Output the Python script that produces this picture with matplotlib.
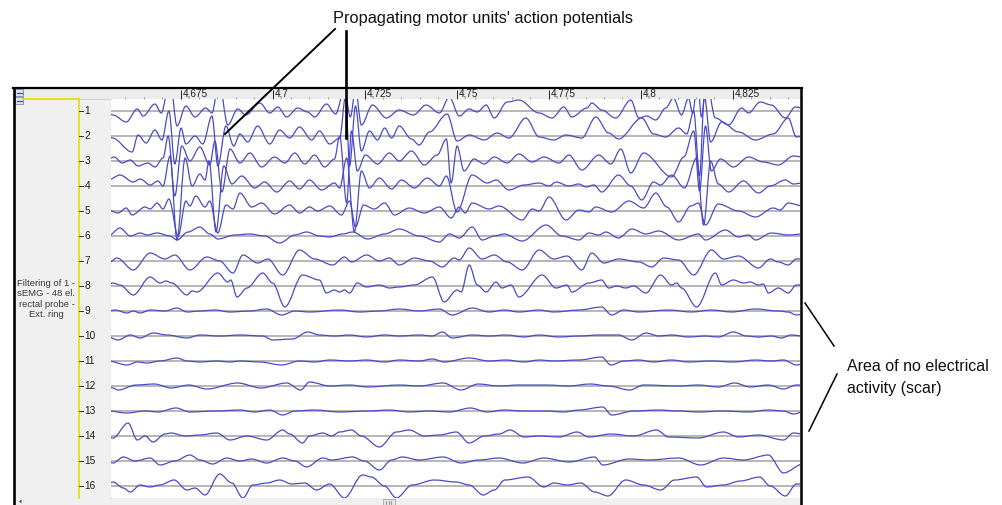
import matplotlib
matplotlib.use("Agg")
import matplotlib.pyplot as plt
from matplotlib.path import Path
from matplotlib.patches import PathPatch, Rectangle, Polygon
from matplotlib.transforms import blended_transform_factory, offset_copy
from matplotlib.ticker import MultipleLocator

W, H = 1003, 505
FONT = "Liberation Sans"

# Time origin of the sample lists below (s); samples are (ms after T0, µV)
T0 = 4.6496
CH_SPACING = 250.0          # µV between neighbouring channel baselines
T_START, T_END = 4.656196, 4.843152
V_TOP, V_BOTTOM = 125.0, -3865.0

tick_times = [4.675, 4.700, 4.725, 4.750, 4.775, 4.800, 4.825]
tick_labels = ["4,675", "4,7", "4,725", "4,75", "4,775", "4,8", "4,825"]
channel_labels = [str(i) for i in range(1, 17)]
panel_title = "Filtering of 1 -\nsEMG - 48 el.\nrectal probe -\nExt. ring"

# Local extrema of each filtered channel: (ms after T0, µV)
ch01 = [(5.7, -20), (7.0, -40), (10.6, -110), (13.6, 20), (15.2, -50), (18.4, 70), (20.1, -20),
        (22.5, 320), (24.4, -150), (26.8, 50), (29.3, -60), (32.2, 30), (33.9, -20), (35.8, 300),
        (38.2, -140), (40.9, 20), (43.1, -40), (46.9, 80), (49.6, -20), (51.8, 40), (54.2, -60),
        (57.2, 30), (59.9, -10), (61.8, -60), (65.0, 70), (67.5, -30), (69.9, 220), (71.5, -60),
        (72.9, 220), (74.5, -140), (77.5, 60), (81.3, -70), (84.8, 10), (88.6, -40), (92.1, 60),
        (95.7, -20), (98.4, 140), (101.1, -50), (103.8, 20), (106.0, -10), (108.4, 60), (110.6, -70),
        (114.1, 90), (117.3, 110), (122.8, -20), (126.3, -70), (129.5, 40), (131.7, -60), (135.8, 30),
        (137.1, 80), (139.8, 10), (143.6, -70), (147.7, 110), (149.9, -70), (152.0, -50), (154.5, -90),
        (157.2, 30), (159.3, 130), (161.5, -40), (163.4, 130), (164.5, -20), (165.9, 300), (166.9, -60),
        (168.3, 300), (170.7, -70), (174.3, -140), (177.8, 30), (179.7, -20), (182.9, 90), (185.9, 60),
        (189.7, -70), (192.4, 40), (194.5, 30)]
ch02 = [(5.7, -10), (6.8, -20), (12.2, -160), (13.8, 10), (16.0, -70), (18.4, 60), (20.3, -40),
        (22.2, 250), (23.8, -280), (25.5, 80), (26.8, -80), (29.3, 0), (31.4, -80), (33.9, 200),
        (35.5, -300), (37.7, 100), (39.8, -100), (41.5, 20), (43.6, -60), (46.3, 100), (49.6, -80),
        (52.3, 60), (55.0, -20), (57.7, 90), (61.0, -40), (63.1, 50), (65.9, -80), (68.6, -20),
        (70.2, 400), (71.3, -300), (72.9, 300), (74.5, -150), (76.7, 50), (78.9, -40), (80.8, 80),
        (82.7, -20), (84.8, 100), (88.1, -30), (90.2, -90), (93.0, 40), (97.8, 220), (100.5, -50),
        (103.8, 10), (107.9, -40), (111.4, 30), (114.6, -20), (119.2, 180), (122.8, -10), (126.8, -40),
        (130.1, 10), (134.4, -20), (138.2, 190), (141.7, 30), (144.4, -30), (150.7, 180), (153.9, 20),
        (157.2, -10), (160.7, 80), (162.9, 20), (164.8, 250), (166.4, -400), (167.7, 400), (169.4, -60),
        (172.4, 140), (177.0, 40), (181.6, -40), (186.4, 20), (190.5, 180), (192.7, -10), (194.5, 0)]
ch03 = [(5.7, 20), (7.3, 40), (9.5, -20), (11.7, 10), (13.8, -50), (16.5, -20), (18.4, -60),
        (20.6, 30), (22.0, 250), (23.8, -350), (25.7, 150), (27.9, 0), (30.6, 140), (33.3, -40),
        (34.7, 200), (36.6, -310), (38.8, 120), (41.5, -20), (44.2, 80), (47.4, -60), (50.9, 40),
        (53.7, -20), (56.4, 80), (59.1, -30), (61.8, 60), (64.5, -60), (67.2, 20), (68.6, 250),
        (70.5, -420), (71.8, 300), (73.4, -100), (75.6, 60), (78.9, -30), (82.1, 80), (84.8, 0),
        (88.1, 100), (91.6, -40), (95.1, 60), (97.6, 220), (98.9, -220), (100.5, 150), (102.4, -100),
        (105.1, 20), (107.9, -30), (110.6, 40), (114.1, -20), (117.3, 70), (120.9, -10), (124.1, 40),
        (128.2, -20), (130.9, 60), (134.4, -90), (139.0, 60), (142.3, -30), (145.0, 120), (147.7, -120),
        (151.2, 80), (158.8, -160), (162.1, 40), (164.8, 300), (166.4, -300), (168.0, 350), (169.6, -100),
        (172.1, 20), (175.6, -60), (179.7, 40), (183.7, -10), (187.8, -40), (191.9, 50), (194.5, 40)]
ch04 = [(5.7, 60), (8.9, 110), (12.5, 40), (14.4, 70), (17.1, 10), (19.2, 50), (20.6, 0),
        (22.5, 300), (24.4, -540), (26.6, 280), (28.5, 0), (30.6, 120), (32.0, 60), (33.1, 250),
        (35.0, -460), (37.1, 200), (39.3, 20), (42.0, 100), (45.5, -20), (48.2, 40), (51.5, -60),
        (55.0, 50), (57.7, -30), (60.4, 60), (63.7, -40), (67.2, 30), (68.6, -20), (70.5, 280),
        (72.6, -460), (74.5, 150), (76.7, -20), (79.4, 80), (82.7, -30), (85.4, 60), (88.9, -20),
        (92.4, 80), (95.7, 0), (97.6, 100), (100.5, -260), (104.6, 110), (108.7, 30), (111.1, 60),
        (114.6, -40), (118.7, 10), (122.8, 30), (125.5, 0), (127.4, 40), (130.9, 0), (133.6, 20),
        (135.5, -10), (137.7, 10), (139.8, -60), (144.4, 110), (147.7, 0), (150.7, -140), (153.9, 40),
        (155.8, 10), (158.8, 110), (162.3, -20), (165.6, 280), (167.5, -390), (169.4, 250), (171.5, 20),
        (174.3, -60), (178.3, 50), (182.4, -70), (185.6, 0), (189.7, 60), (191.9, 20), (194.5, 30)]
ch05 = [(5.7, 10), (8.4, -20), (10.6, 30), (12.2, -40), (15.7, 40), (17.1, 20), (19.0, 80),
        (20.6, 20), (22.2, 120), (24.7, -250), (26.8, 100), (27.9, 50), (29.5, 150), (32.0, 40),
        (33.3, 100), (35.5, -220), (37.7, 60), (39.6, 20), (41.5, 180), (44.7, 40), (47.4, 80),
        (50.9, -30), (55.0, 60), (57.7, -20), (60.4, 40), (62.6, 0), (65.9, 50), (69.1, -40),
        (71.3, 100), (72.9, -160), (75.1, 60), (78.0, 20), (80.8, 80), (83.5, -40), (87.5, 30),
        (91.6, -20), (95.7, 40), (98.9, -70), (101.1, 40), (102.7, -20), (104.6, 80), (109.2, 20),
        (111.9, 50), (118.2, -90), (120.9, 20), (122.8, 0), (125.5, 140), (130.1, -90), (133.6, 10),
        (136.3, -10), (138.2, 40), (142.5, -10), (147.2, 100), (151.2, 30), (154.5, 180), (157.5, 40),
        (160.7, -110), (164.0, 50), (166.1, 80), (168.0, -140), (171.5, 70), (177.0, 0), (181.6, -60),
        (186.4, 30), (188.3, 10), (190.5, 80), (194.5, 50)]
ch06 = [(5.7, 0), (8.9, 80), (11.7, 0), (14.4, 30), (16.3, 10), (19.0, 30), (22.5, 0),
        (24.4, -40), (27.4, 40), (30.6, 90), (33.3, 20), (35.5, -30), (40.1, 10), (44.2, 20),
        (48.2, 0), (52.3, -70), (56.4, 10), (59.6, 40), (63.1, 0), (65.9, -10), (69.4, 20),
        (72.1, 40), (76.2, -30), (80.8, 20), (84.8, 70), (90.2, 0), (95.7, -60), (98.4, 20),
        (101.1, -20), (104.6, 90), (107.3, -40), (110.6, 0), (113.3, 20), (118.2, -50), (124.7, 110),
        (129.0, 0), (133.6, -40), (136.3, 30), (139.0, 10), (140.9, 40), (144.4, -20), (148.0, 70),
        (151.8, 20), (155.3, 50), (160.7, -40), (166.1, 20), (168.0, -40), (173.4, 60), (177.0, -10),
        (179.7, 10), (181.6, -40), (185.9, 30), (190.5, 10), (194.5, 20)]
ch07 = [(5.7, -20), (8.1, 30), (12.5, -90), (17.1, 80), (21.1, 20), (23.8, 60), (27.9, -90),
        (32.5, 40), (36.0, 0), (39.6, -120), (42.3, 60), (46.3, -20), (49.1, 20), (53.1, -140),
        (57.7, 110), (61.8, 20), (66.7, -40), (69.9, 40), (71.8, -10), (75.9, 60), (79.4, 0),
        (82.1, 30), (84.8, -40), (88.9, 30), (93.0, 0), (96.5, -60), (99.7, 30), (101.1, 10),
        (103.8, 130), (107.3, 20), (110.6, 60), (114.1, -10), (118.2, -90), (122.8, 110), (126.8, 20),
        (130.4, 50), (134.4, -90), (137.1, 80), (140.4, -20), (144.4, 20), (149.9, -10), (153.4, -60),
        (156.6, 30), (160.7, 10), (164.8, -140), (169.6, 110), (172.9, 20), (177.0, 50), (182.4, -70),
        (185.6, 20), (187.8, -10), (190.5, -40), (192.7, 20), (194.5, 20)]
ch08 = [(5.7, 20), (7.0, 30), (8.9, 10), (12.5, -90), (17.1, 90), (19.8, 30), (21.4, 50),
        (23.0, 30), (27.1, -90), (28.5, -50), (29.8, -60), (35.5, 130), (38.2, 40), (39.0, 60),
        (40.7, -110), (43.4, -20), (47.7, 130), (50.4, 30), (53.7, -210), (58.5, 110), (63.1, 60),
        (65.0, -70), (67.2, -40), (68.6, -60), (69.9, -40), (71.3, -70), (73.4, 30), (75.9, -10),
        (79.4, 10), (82.1, -20), (84.8, -10), (88.9, 10), (93.8, 90), (97.0, -160), (100.5, -40),
        (101.6, -60), (103.8, 210), (106.0, 10), (108.4, -60), (111.1, 40), (112.7, -20), (115.2, 10),
        (117.3, -110), (123.6, 110), (127.4, -20), (130.4, 10), (131.7, -60), (136.3, 30), (139.8, 60),
        (141.7, -20), (143.9, 0), (146.3, -20), (148.5, 0), (151.8, -70), (155.8, 110), (158.8, 10),
        (160.2, 30), (161.5, -20), (165.6, -210), (170.7, 130), (172.4, 10), (175.6, 60), (178.3, 30),
        (180.2, 40), (182.4, 10), (183.7, 20), (185.1, -70), (187.8, -20), (190.5, -70), (192.7, 10),
        (194.5, 10)]
ch09 = [(5.7, 0), (7.6, 10), (10.8, -20), (12.5, 0), (14.4, -20), (17.1, 10), (21.1, 0),
        (24.4, 30), (27.1, -10), (30.6, 0), (34.7, 10), (38.8, -10), (44.2, 0), (48.8, 20),
        (52.8, -40), (56.4, 0), (60.4, -10), (68.6, 10), (74.0, -10), (79.4, 0), (84.8, 20),
        (90.2, 0), (95.7, 20), (99.2, -40), (104.6, 30), (109.2, -10), (113.3, 10), (117.3, -10),
        (122.8, 10), (126.8, -10), (133.6, 10), (139.8, 40), (142.5, -40), (145.8, 10), (149.9, -10),
        (158.0, 10), (164.2, -10), (169.6, 10), (175.1, -10), (181.6, 20), (187.8, 0), (190.5, -10),
        (192.7, -40), (194.5, -30)]
ch10 = [(5.7, -10), (8.4, -40), (11.7, 10), (14.4, -20), (17.9, 30), (21.7, 10), (27.1, -20),
        (30.6, 10), (36.0, 0), (41.5, 10), (47.7, 0), (50.4, -40), (55.8, -30), (59.9, 40),
        (63.1, 10), (67.2, 0), (71.3, 10), (75.9, -10), (80.8, 10), (84.8, 0), (90.2, 10),
        (93.8, 0), (96.5, 40), (99.2, -20), (104.6, 10), (109.2, 0), (113.8, 10), (118.7, -10),
        (122.8, 10), (128.2, -10), (133.6, 0), (139.0, 10), (144.4, 10), (148.0, -40), (151.8, 30),
        (155.3, 0), (158.8, 10), (163.4, -10), (168.0, 0), (171.5, -10), (175.6, 40), (179.1, 0),
        (182.4, -10), (185.9, 0), (188.6, -20), (191.3, 10), (194.5, 0)]
ch11 = [(5.7, 0), (10.8, -40), (13.6, -10), (16.3, -20), (19.8, 0), (24.4, 30), (27.1, 0),
        (30.6, -10), (35.2, 0), (38.8, -10), (41.5, 0), (46.9, -10), (52.8, -40), (57.7, 0),
        (61.8, -10), (65.9, 10), (71.3, 0), (75.9, 10), (80.8, -10), (84.8, 10), (90.2, 0),
        (93.8, 20), (97.0, -10), (103.8, 30), (109.2, 0), (113.8, 10), (118.7, -10), (122.8, 10),
        (126.8, 0), (133.6, 10), (139.8, 40), (142.3, -40), (145.8, 0), (149.9, 10), (153.9, -10),
        (158.8, 10), (163.4, -10), (169.6, 0), (175.6, -10), (181.6, 10), (185.9, 0), (189.2, 10),
        (192.7, -40), (194.5, -30)]
ch12 = [(5.7, -10), (7.0, -20), (8.4, -40), (13.3, 10), (18.2, 20), (22.8, -20), (27.6, 10),
        (32.5, -30), (40.9, 30), (47.2, -20), (54.2, 30), (58.0, -40), (60.4, 40), (65.9, 0),
        (71.3, 10), (76.2, -10), (84.8, 10), (90.2, 0), (96.7, 30), (101.6, -40), (106.2, 20),
        (111.9, 0), (117.3, 10), (124.7, 10), (130.9, 0), (136.6, 20), (141.7, 0), (147.4, -40),
        (151.2, 10), (160.7, 0), (166.1, 10), (171.5, -10), (175.9, 30), (180.2, -10), (185.1, 10),
        (189.2, -30), (192.7, 10), (194.5, 10)]
ch13 = [(5.7, 0), (10.8, -20), (15.7, 0), (19.2, -10), (24.1, 30), (27.9, -10), (34.7, 0),
        (41.5, 10), (45.5, -10), (49.6, 10), (53.1, -40), (56.4, 0), (61.8, 10), (68.6, -10),
        (76.2, 0), (82.1, 10), (87.5, -10), (93.0, 0), (98.4, -10), (104.1, 30), (108.7, -10),
        (113.3, 10), (118.7, 0), (124.7, 0), (129.5, -10), (133.6, 10), (140.1, 40), (142.5, -40),
        (148.5, 0), (155.3, 10), (160.7, 0), (166.1, -10), (172.9, 0), (179.7, -10), (185.1, 10),
        (189.2, 0), (191.9, -30), (194.5, -10)]
ch14 = [(5.7, -10), (7.0, -20), (11.1, 130), (13.6, -40), (15.7, 0), (17.9, -60), (21.1, 20),
        (22.8, 30), (26.6, 0), (30.6, 10), (35.2, 30), (38.8, -40), (43.4, 0), (48.8, -40),
        (53.1, 60), (55.0, 20), (58.5, -70), (60.4, 0), (64.0, 30), (66.4, 0), (68.6, 40),
        (71.8, 60), (74.5, 0), (79.4, -110), (84.0, 40), (87.5, 60), (91.6, 0), (95.7, 10),
        (100.3, 40), (103.8, -70), (107.9, 0), (111.9, 20), (114.9, 60), (118.7, -10), (122.8, 0),
        (128.2, -10), (133.1, 40), (136.3, -10), (142.3, 20), (148.5, 0), (154.7, 60), (158.0, -10),
        (166.1, -20), (172.9, 40), (177.0, -10), (182.4, 10), (189.2, -40), (191.9, 30), (194.5, 20)]
ch15 = [(5.7, -10), (7.0, -20), (9.8, 40), (13.0, 0), (17.1, 30), (19.8, -40), (23.8, 0),
        (27.9, 60), (30.6, 10), (34.1, -30), (37.9, 30), (41.5, 0), (44.7, 20), (48.8, -20),
        (53.1, 30), (56.4, 0), (59.6, -60), (64.0, 30), (66.4, 10), (72.1, 40), (75.3, 0),
        (79.4, -90), (82.7, 10), (85.6, 40), (90.2, 10), (96.7, 40), (101.6, -20), (106.5, 10),
        (111.9, 30), (118.4, -20), (124.1, 30), (130.9, -10), (137.9, 40), (140.1, -40), (147.2, 20),
        (152.6, 10), (160.7, 30), (166.7, -40), (172.9, 30), (178.3, 10), (185.1, 60), (189.2, -120),
        (194.5, -30)]
ch16 = [(5.7, 20), (7.0, 40), (9.8, -20), (11.7, -60), (14.4, 10), (17.1, -10), (19.8, 10),
        (23.6, 60), (27.1, -40), (29.3, -20), (32.0, -90), (36.0, 120), (39.3, 30), (42.3, -120),
        (45.0, 10), (48.8, 30), (52.3, 60), (55.6, 20), (59.1, 30), (62.3, -40), (65.9, 20),
        (69.9, -120), (74.8, 110), (77.2, 90), (80.8, 0), (84.0, -120), (88.3, 10), (94.3, 60),
        (100.3, 40), (103.8, 10), (107.6, -90), (110.6, -40), (113.5, 60), (119.8, 90), (124.1, -10),
        (126.8, 30), (130.4, 10), (134.1, 30), (137.9, -60), (141.5, -100), (146.3, 60), (151.2, 10),
        (155.8, -40), (159.6, 60), (165.6, 90), (168.3, -10), (172.9, 10), (177.5, 50), (182.7, 90),
        (185.6, 0), (189.7, -100), (192.7, 20), (194.5, 20)]

channels = [ch01, ch02, ch03, ch04, ch05, ch06, ch07, ch08,
            ch09, ch10, ch11, ch12, ch13, ch14, ch15, ch16]

TRACE = "#4848c4"
GRID = "#a3a3a3"
PANEL = "#f0f0f0"


def smooth_path(points, offset):
    """Cubic Bezier through extrema with flat tangents at every extremum."""
    ts = [T0 + ms / 1000.0 for ms, _ in points]
    vs = [uv + offset for _, uv in points]
    verts = [(ts[0], vs[0])]
    codes = [Path.MOVETO]
    for i in range(1, len(ts)):
        d = (ts[i] - ts[i - 1]) / 3.0
        verts += [(ts[i - 1] + d, vs[i - 1]), (ts[i] - d, vs[i]), (ts[i], vs[i])]
        codes += [Path.CURVE4] * 3
    return Path(verts, codes)


fig = plt.figure(figsize=(W / 100, H / 100), dpi=100)
fig.patch.set_facecolor("white")

# window furniture in pixel coordinates
ui = fig.add_axes([0, 0, 1, 1])
ui.set_xlim(0, W)
ui.set_ylim(H, 0)
ui.axis("off")
ui.add_patch(Rectangle((15, 89), 786, 9.5, fc="#ececec", ec="none"))
ui.add_patch(Rectangle((15, 98.5), 64, 399, fc=PANEL, ec="none"))
ui.add_patch(Rectangle((79, 98.5), 32.5, 399, fc=PANEL, ec="none"))
ui.plot([23, 800], [98.5, 98.5], color="#cfcfcf", lw=0.8)
ui.plot([111.5, 111.5], [98.5, 497.5], color="#c4c4c4", lw=0.8)
ui.plot([79, 79], [98.5, 497.5], color="#e6dc00", lw=1.2)
ui.plot([23, 79], [98.5, 98.5], color="#e6dc00", lw=1.2)
for y0 in (89.3, 97.0):
    ui.add_patch(Rectangle((15.3, y0), 8.2, 7.0, fc="#dde4ee", ec="#7d8ca3", lw=0.6))
    ui.plot([16.8, 22.0], [y0 + 3.5, y0 + 3.5], color="#44557a", lw=0.9)
ui.add_patch(Rectangle((15, 497.5), 786, 8, fc="#f0f0f0", ec="none"))
ui.add_patch(Rectangle((383, 499), 12, 6, fc="#e4e4e4", ec="#a8a8a8", lw=0.6))
for xs in (386.5, 389, 391.5):
    ui.plot([xs, xs], [500.5, 503.5], color="#707070", lw=0.5)
ui.add_patch(Polygon([(21.5, 499.5), (21.5, 503.5), (19, 501.5)], closed=True, fc="#505050", ec="none"))
ui.plot([13, 802], [88, 88], color="black", lw=1.6)
ui.plot([14, 14], [87.5, 505], color="black", lw=1.9)
ui.plot([801, 801], [87.5, 505], color="black", lw=1.8)
ui.text(46.5, 299, panel_title, ha="center", va="center", fontsize=6.8,
        family=FONT, color="#3a3a3a", linespacing=1.22)

# signal area
ax = fig.add_axes([111.5 / W, 1 - 497.5 / H, (799.5 - 111.5) / W, (497.5 - 98.5) / H])
ax.set_autoscale_on(False)
ax.set_xlim(T_START, T_END)
ax.set_ylim(V_BOTTOM, V_TOP)
ax.set_facecolor("white")
for sp in ax.spines.values():
    sp.set_visible(False)
baselines = [-CH_SPACING * i for i in range(len(channels))]
ax.set_yticks(baselines)
ax.yaxis.grid(True, color=GRID, lw=1.1)
ax.set_axisbelow(True)
ax.tick_params(axis="y", left=False, labelleft=False)
ax.xaxis.set_ticks_position("top")
ax.set_xticks(tick_times)
ax.xaxis.set_minor_locator(MultipleLocator(0.005))
ax.tick_params(axis="x", which="major", direction="out", length=6.3, width=0.7,
               color="#202020", labeltop=False, labelbottom=False)
ax.tick_params(axis="x", which="minor", direction="out", length=1.6, width=0.6,
               color="#8a8a8a")

for idx, pts in enumerate(channels):
    ax.add_patch(PathPatch(smooth_path(pts, baselines[idx]), fill=False,
                           ec=TRACE, lw=0.88, joinstyle="round", capstyle="round"))

# time labels in the header strip
hdr = offset_copy(blended_transform_factory(ax.transData, ui.transData), fig=fig, x=2.5, y=0, units="dots")
for t, lab in zip(tick_times, tick_labels):
    ui.text(t, 93.6, lab, transform=hdr, ha="left", va="center", fontsize=7.2,
            family=FONT, color="#202020", clip_on=False)

# channel numbers in the label column
lab_tr = blended_transform_factory(ui.transData, ax.transData)
for b, lab in zip(baselines, channel_labels):
    ui.plot([79.5, 83], [b, b], transform=lab_tr, color="#303030", lw=0.7)
    ui.text(84.5, b, lab, transform=lab_tr, ha="left", va="center", fontsize=7.3,
            family=FONT, color="#202020")

# callouts
ov = fig.add_axes([0, 0, 1, 1])
ov.set_xlim(0, W)
ov.set_ylim(H, 0)
ov.axis("off")
ov.patch.set_alpha(0)
ov.text(333, 23, "Propagating motor units' action potentials", ha="left", va="baseline",
        fontsize=11.8, family=FONT, color="#111111")
ov.plot([335, 225], [29, 134], color="black", lw=1.4)
ov.plot([346, 346], [31, 138], color="black", lw=1.9)
ov.text(847, 371, "Area of no electrical", ha="left", va="baseline",
        fontsize=11.5, family=FONT, color="#111111")
ov.text(847, 393, "activity (scar)", ha="left", va="baseline",
        fontsize=11.5, family=FONT, color="#111111")
ov.plot([805, 834], [303, 346], color="black", lw=1.1)
ov.plot([837, 809], [374, 431], color="black", lw=1.1)

fig.savefig("out.png", dpi=100, facecolor="white")
